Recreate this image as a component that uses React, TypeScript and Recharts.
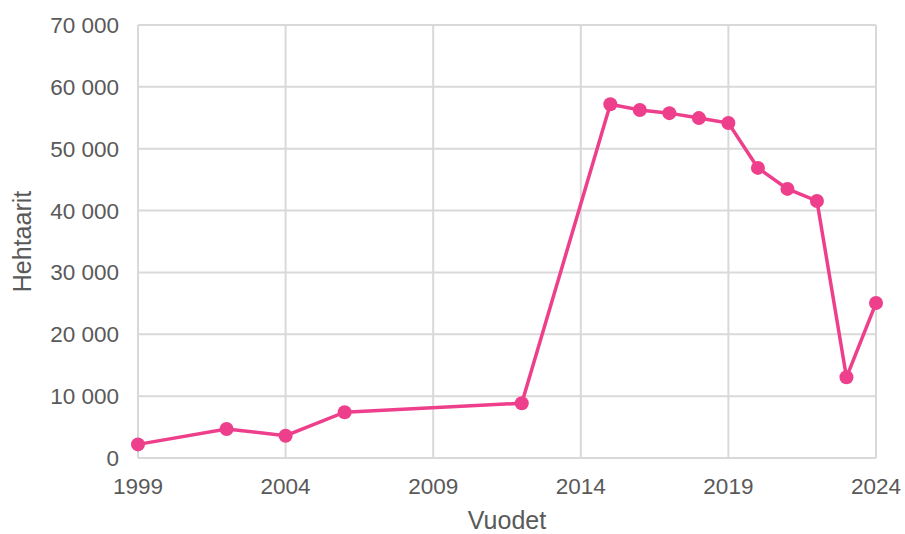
import { LineChart, Line, XAxis, YAxis, CartesianGrid, Label } from "recharts";

const years = [1999, 2002, 2004, 2006, 2012, 2015, 2016, 2017, 2018, 2019, 2020, 2021, 2022, 2023, 2024];
const hectares = [2200, 4700, 3600, 7400, 8850, 57200, 56250, 55750, 54950, 54150, 46900, 43500, 41550, 13050, 25050];
const xTicks = [1999, 2004, 2009, 2014, 2019, 2024];
const yTicks = [0, 10000, 20000, 30000, 40000, 50000, 60000, 70000];

const data = years.map((year, i) => ({ year, value: hectares[i] }));

const fmt = (v: number) => (v === 0 ? "0" : v.toLocaleString("fr-FR").replace(/\s/g, " "));

const tickStyle = { fill: "#595959", fontSize: 22.5, fontFamily: "Liberation Sans, Arial, sans-serif" };

export default function App() {
    return (
        <div style={{ position: "absolute", left: 0, top: 0, width: 905, height: 534, background: "#fff" }}>
            <LineChart width={905} height={534} data={data} margin={{ top: 25, right: 29, bottom: 0, left: 0 }}>
                <CartesianGrid stroke="#d9d9d9" strokeWidth={2} />
                <XAxis
                    dataKey="year"
                    type="number"
                    domain={[1999, 2024]}
                    ticks={xTicks}
                    height={76}
                    stroke="#d9d9d9"
                    strokeWidth={2}
                    tickLine={false}
                    tick={tickStyle}
                    tickMargin={14}
                    interval={0}
                >
                    <Label value="Vuodet" position="insideBottom" offset={5} style={{ ...tickStyle, fontSize: 25 }} />
                </XAxis>
                <YAxis
                    type="number"
                    domain={[0, 70000]}
                    ticks={yTicks}
                    width={138}
                    stroke="#d9d9d9"
                    strokeWidth={2}
                    tickLine={false}
                    tick={tickStyle}
                    tickFormatter={fmt}
                    tickMargin={13}
                    interval={0}
                >
                    <Label value="Hehtaarit" angle={-90} position="insideLeft" offset={22} style={{ ...tickStyle, fontSize: 25, textAnchor: "middle" }} />
                </YAxis>
                <Line
                    type="linear"
                    dataKey="value"
                    stroke="#ee3f8c"
                    strokeWidth={3.5}
                    dot={{ r: 7, fill: "#ee3f8c", stroke: "#ee3f8c", strokeWidth: 0 }}
                    isAnimationActive={false}
                />
            </LineChart>
        </div>
    );
}
